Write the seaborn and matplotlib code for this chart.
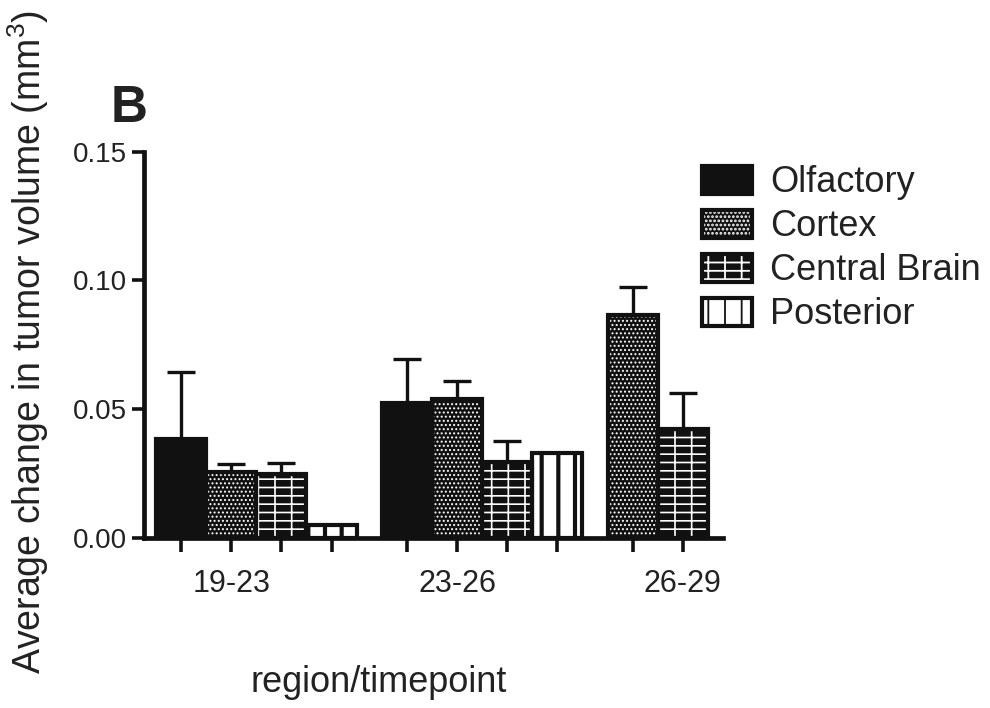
import numpy as np
import pandas as pd
import matplotlib
matplotlib.use("Agg")
import matplotlib.pyplot as plt
from matplotlib.patches import Patch
from matplotlib.legend_handler import HandlerTuple
import seaborn as sns

# ---------------- data ----------------
timepoints = ["19-23", "23-26", "26-29"]
regions = ["Olfactory", "Cortex", "Central Brain", "Posterior"]
olfactory = [0.0383, 0.0523, np.nan]
olfactory_err = [0.0263, 0.0173, np.nan]
cortex = [0.0257, 0.0540, 0.0866]
cortex_err = [0.0030, 0.0070, 0.0110]
central_brain = [0.0249, 0.0296, 0.0422]
central_brain_err = [0.0041, 0.0082, 0.0140]
posterior = [0.0050, 0.0330, np.nan]
posterior_err = [0.0, 0.0, np.nan]
y_ticks = [0.00, 0.05, 0.10, 0.15]

# ---------------- style ----------------
sns.set_theme(style="ticks")
plt.rcParams["font.family"] = ["Liberation Sans", "DejaVu Sans"]
plt.rcParams["mathtext.fontset"] = "custom"
plt.rcParams["mathtext.rm"] = "Liberation Sans"
plt.rcParams["hatch.linewidth"] = 1.3

values = {"Olfactory": olfactory, "Cortex": cortex,
          "Central Brain": central_brain, "Posterior": posterior}
errors = {"Olfactory": olfactory_err, "Cortex": cortex_err,
          "Central Brain": central_brain_err, "Posterior": posterior_err}

# layout: group start slots (bars in a group are adjacent)
group_start = [0.0, 4.5, 9.0]
rows = []
label_pos = []
for gi, tp in enumerate(timepoints):
    k = 0
    for r in regions:
        v = values[r][gi]
        if np.isnan(v):
            continue
        rows.append(dict(timepoint=tp, region=r, value=v,
                         err=errors[r][gi], pos=group_start[gi] + k))
        k += 1
    label_pos.append(group_start[gi] + 1)
df = pd.DataFrame(rows)

styles = {
    "Olfactory": dict(face="#111111", hatch=None, hcol="#111111", hlw=1.0),
    "Cortex": dict(face="#111111", hatch="....", hcol="white", hlw=0.9),
    "Central Brain": dict(face="#111111", hatch="--|", hcol="white", hlw=1.2),
    "Posterior": dict(face="white", hatch="|", hcol="#111111", hlw=3.0),
}


def style_patch(p, st):
    p.set_facecolor(st["face"])
    p.set_edgecolor(st["hcol"])
    p.set_linewidth(0)
    if st["hatch"]:
        p.set_hatch(st["hatch"])
        if hasattr(p, "set_hatch_linewidth"):
            p.set_hatch_linewidth(st["hlw"])


fig = plt.figure(figsize=(9.9, 7.08), dpi=100)
ax = fig.add_axes([0.1455, 0.2401, 0.7303 - 0.1455, 0.7857 - 0.2401])

palette = {r: styles[r]["face"] for r in regions}
sns.barplot(data=df, x="pos", y="value", hue="region", hue_order=regions,
            palette=palette, native_scale=True, dodge=False, width=1.0,
            errorbar=None, legend=False, ax=ax, saturation=1)

for r, cont in zip(regions, ax.containers):
    for p in cont.patches:
        style_patch(p, styles[r])

# outlines
sns.barplot(data=df, x="pos", y="value", native_scale=True, width=1.0,
            errorbar=None, fill=False, color="#111111", linewidth=3.0, ax=ax)

# error bars (upper only)
e = df[df["err"] > 0]
ax.errorbar(e["pos"], e["value"], yerr=[np.zeros(len(e)), e["err"]],
            fmt="none", ecolor="#111111", elinewidth=2.4, capsize=10,
            capthick=2.4, zorder=1)

ax.set_xlim(-0.737, 10.8)
ax.set_ylim(0, 0.15)
ax.set_yticks(y_ticks)
ax.set_yticklabels([f"{t:.2f}" for t in y_ticks])
ax.xaxis.remove_overlapping_locs = False
ax.set_xticks(df["pos"])
ax.set_xticklabels([""] * len(df))
ax.set_xticks(label_pos, minor=True)
ax.set_xticklabels(timepoints, minor=True)
ax.tick_params(axis="x", which="major", direction="out", length=10, width=2.6,
               color="#111111")
ax.tick_params(axis="x", which="minor", length=0, pad=22, labelsize=22,
               labelcolor="#222222")
ax.tick_params(axis="y", direction="out", length=9, width=2.6, pad=3,
               labelsize=20, labelcolor="#222222", color="#111111")
ax.set_xlabel("")
ax.set_ylabel("")
for s in ["top", "right"]:
    ax.spines[s].set_visible(False)
for s in ["left", "bottom"]:
    ax.spines[s].set_linewidth(3.4)
    ax.spines[s].set_color("#111111")
ax.spines["left"].set_bounds(0, 0.15)
ax.set_facecolor("white")
fig.patch.set_facecolor("white")

# legend
handles = []
for r in regions:
    st = styles[r]
    fillp = Patch()
    style_patch(fillp, st)
    outl = Patch(facecolor="none", edgecolor="#111111", linewidth=3.0)
    handles.append((fillp, outl))
fig.legend(handles, regions, handler_map={tuple: HandlerTuple(ndivide=1)},
           loc="upper left", bbox_to_anchor=(0.709, 0.7665), frameon=False,
           fontsize=26, handlelength=1.39, handleheight=0.83,
           labelspacing=0.25, handletextpad=0.5, borderpad=0,
           borderaxespad=0, labelcolor="#222222")

fig.text(28 / 990, 1 - 342 / 708,
         "Average change in tumor volume (mm$^3$)", rotation=90,
         ha="center", va="center", fontsize=27, color="#222222")
fig.text(379 / 990, 1 - 683 / 708, "region/timepoint", ha="center",
         va="center", fontsize=26, color="#222222")
fig.text(129 / 990, 1 - 108 / 708, "B", ha="center", va="center",
         fontsize=37, fontweight="bold", color="#222222")

fig.savefig("out.png", dpi=100, facecolor="white")
